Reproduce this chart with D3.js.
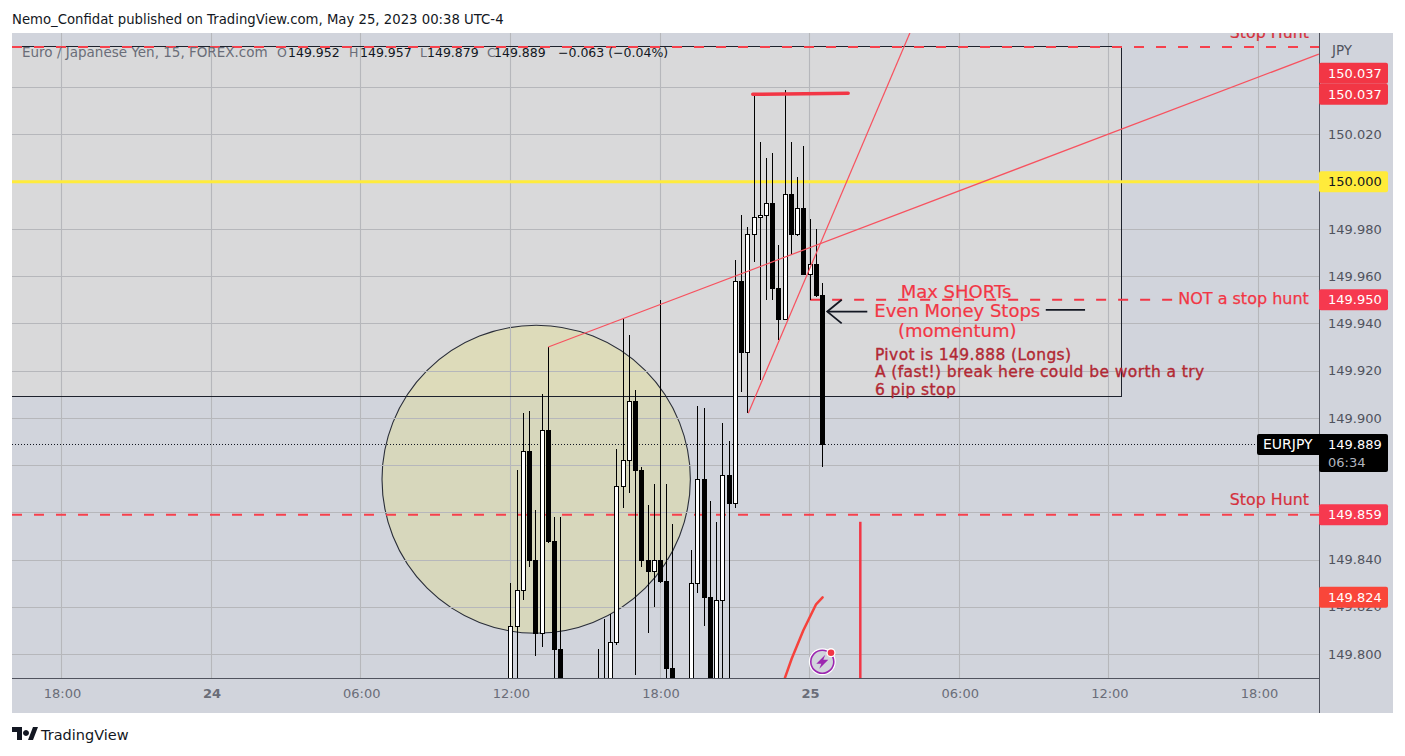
<!DOCTYPE html>
<html><head><meta charset="utf-8">
<script src="https://cdn.jsdelivr.net/npm/d3@7/dist/d3.min.js"></script>
<style>
html,body{margin:0;padding:0;background:#fff;overflow:hidden}
svg{display:block}
text{font-family:"DejaVu Sans",sans-serif}
</style></head><body>
<svg id="c" width="1405" height="756"></svg>
<script>
// ---------- data ----------
const barIndex = [0,1,2,3,4,5,6,7,8,14,15,16,17,18,19,20,21,22,23,24,25,26,29,30,31,32,33,34,35,36,37,38,39,40,41,42,43,44,45,46,47,48,49,50];
const opens  = [149.785,149.812,149.827,149.886,149.840,149.809,149.895,149.848,149.802,149.785,149.785,149.785,149.805,149.871,149.882,149.907,149.878,149.840,149.835,149.840,149.831,149.794,149.785,149.830,149.874,149.824,149.790,149.823,149.876,149.864,149.958,149.928,149.978,149.985,149.986,149.991,149.955,149.942,149.995,149.978,149.989,149.961,149.965,149.952];
const highs  = [149.830,149.878,149.902,149.903,149.861,149.910,149.930,149.858,149.858,149.802,149.815,149.817,149.887,149.942,149.935,149.912,149.879,149.863,149.872,149.950,149.872,149.855,149.844,149.905,149.904,149.865,149.856,149.898,149.890,149.967,149.986,149.981,150.037,150.017,150.010,150.012,149.973,150.039,150.017,150.002,150.015,149.984,149.980,149.957];
const lows   = [149.780,149.785,149.823,149.837,149.799,149.803,149.847,149.785,149.780,149.780,149.780,149.780,149.804,149.862,149.868,149.791,149.837,149.809,149.820,149.830,149.780,149.780,149.780,149.826,149.812,149.785,149.785,149.785,149.785,149.862,149.911,149.902,149.966,149.916,149.950,149.950,149.933,149.942,149.969,149.977,149.961,149.950,149.951,149.879];
const closes = [149.812,149.827,149.886,149.840,149.809,149.895,149.848,149.802,149.785,149.782,149.782,149.805,149.871,149.882,149.907,149.878,149.840,149.835,149.840,149.831,149.794,149.785,149.830,149.874,149.824,149.790,149.823,149.876,149.864,149.958,149.928,149.978,149.985,149.986,149.991,149.955,149.942,149.995,149.978,149.989,149.961,149.965,149.952,149.889];

const priceTicks = [150.04,150.02,150.00,149.98,149.96,149.94,149.92,149.90,149.88,149.86,149.84,149.82,149.80];
const timeTicks = ["2023-05-23T18:00Z","2023-05-24T00:00Z","2023-05-24T06:00Z","2023-05-24T12:00Z","2023-05-24T18:00Z","2023-05-25T00:00Z","2023-05-25T06:00Z","2023-05-25T12:00Z","2023-05-25T18:00Z"];
const timeLabels = ["18:00","24","06:00","12:00","18:00","25","06:00","12:00","18:00"];

const yellowLevel = 150.000, lastPrice = 149.889;
const stopHuntLevels = [150.057,149.859];
const notStopLevel = 149.950, notStopEnd = 106.3;
const boxLeft = -90, boxRight = 98, boxTop = 150.057, boxBottom = 149.909;
const circleCentre = [4.06,149.874], circleRadii = [24.73,0.0652];
const trendA = [[6,149.930],[129.6,150.054]];
const trendB = [[38.08,149.902],[64,150.063]];
const topSwing = [[38.8,150.037],[54.1,150.0375]];
const curveStroke = [[43.97,149.790],[45.04,149.798],[46.9,149.810],[48.94,149.821],[50,149.824]];
const verticalStroke = [[56.05,149.856],[56.05,149.785]];
const arrowShaft = [[57.17,149.945],[50.75,149.945]];
const arrowHeadPts = [[53.06,149.950],[50.75,149.945],[53.06,149.940]];
const arrowTail = [[85.8,149.9457],[92.1,149.9457]];

// ---------- geometry ----------
const W=1405,H=756, L=12,R=1319,T=33,B=678, AR=1393, AB=713;
const x = d3.scaleUtc().domain([new Date("2023-05-23T18:00Z"),new Date("2023-05-25T18:00Z")]).range([62,1259]);
const y = d3.scaleLinear().domain([150,149.859]).range([181.7,514.7]);
const base = new Date("2023-05-24T12:00Z");
const xi = i => x(new Date(+base + i*15*60000));
const line = d3.line().x(d=>xi(d[0])).y(d=>y(d[1]));

const svg = d3.select("#c");
svg.append("rect").attr("width",W).attr("height",H).attr("fill","#fff");
svg.append("rect").attr("x",L).attr("y",T).attr("width",AR-L).attr("height",AB-T).attr("fill","#d1d4dc");
svg.append("defs").append("clipPath").attr("id","pane").append("rect").attr("x",L).attr("y",T).attr("width",R-L).attr("height",B-T);
const pane = svg.append("g").attr("clip-path","url(#pane)");

// box fill and circle under the grid
pane.append("rect").attr("x",xi(boxLeft)).attr("y",y(boxTop)).attr("width",xi(boxRight)-xi(boxLeft)).attr("height",y(boxBottom)-y(boxTop))
  .attr("fill","rgba(221,219,216,.7)");
pane.append("ellipse").attr("cx",xi(circleCentre[0])).attr("cy",y(circleCentre[1]))
  .attr("rx",xi(circleRadii[0])-xi(0)).attr("ry",y(0)-y(circleRadii[1]))
  .attr("fill","rgba(240,230,60,.2)").attr("stroke","#2a2e39").attr("stroke-width",1.1);

// grid
const gridCol="#b6b7bb";
const tDates = timeTicks.map(d=>new Date(d));
pane.append("g").selectAll("line").data(tDates).join("line")
  .attr("x1",d=>Math.round(x(d))-.5).attr("x2",d=>Math.round(x(d))-.5).attr("y1",T).attr("y2",B).attr("stroke",gridCol).attr("stroke-width",1.1);
pane.append("g").selectAll("line").data(priceTicks).join("line")
  .attr("x1",L).attr("x2",R).attr("y1",d=>Math.round(y(d))+.5).attr("y2",d=>Math.round(y(d))+.5).attr("stroke",gridCol).attr("stroke-width",1.1);

// box outline, snapped to the pixel grid so it stays dark
pane.append("rect").attr("x",Math.round(xi(boxLeft))-.5).attr("y",Math.round(y(boxTop))-.5)
  .attr("width",Math.round(xi(boxRight))-Math.round(xi(boxLeft))).attr("height",Math.round(y(boxBottom))-Math.round(y(boxTop)))
  .attr("fill","none").attr("stroke","#1e222d").attr("stroke-width",1);

// horizontal levels
pane.append("line").attr("x1",L).attr("x2",R).attr("y1",y(yellowLevel)).attr("y2",y(yellowLevel)).attr("stroke","#ffeb3b").attr("stroke-width",3);
pane.selectAll(".sh").data(stopHuntLevels).join("line").attr("class","sh")
  .attr("x1",L).attr("x2",R).attr("y1",d=>y(d)).attr("y2",d=>y(d))
  .attr("stroke","#f6404c").attr("stroke-width",2).attr("stroke-dasharray","10 12");
pane.append("line").attr("x1",xi(48)).attr("x2",xi(notStopEnd)).attr("y1",y(notStopLevel)).attr("y2",y(notStopLevel))
  .attr("stroke","#f23645").attr("stroke-width",2).attr("stroke-dasharray","10 12");
pane.append("line").attr("x1",L).attr("x2",1257).attr("y1",Math.round(y(lastPrice))+.5).attr("y2",Math.round(y(lastPrice))+.5)
  .attr("stroke","#131722").attr("stroke-width",1).attr("stroke-dasharray","1 2");

// candles
const candles = barIndex.map((b,i)=>({b,o:opens[i],h:highs[i],l:lows[i],c:closes[i]}));
const cg = pane.append("g").attr("shape-rendering","crispEdges");
cg.selectAll(".w").data(candles).join("rect").attr("class","w")
  .attr("x",d=>Math.floor(xi(d.b))).attr("width",1)
  .attr("y",d=>Math.round(y(d.h))).attr("height",d=>Math.round(y(d.l))-Math.round(y(d.h))).attr("fill","#000");
cg.selectAll(".b").data(candles).join("rect").attr("class","b")
  .attr("x",d=>Math.floor(xi(d.b))-1.5).attr("width",4)
  .attr("y",d=>Math.round(y(Math.max(d.o,d.c)))+.5).attr("height",d=>Math.max(1,Math.round(y(Math.min(d.o,d.c)))-Math.round(y(Math.max(d.o,d.c)))))
  .attr("fill",d=>d.c>=d.o?"#fff":"#000").attr("stroke","#000").attr("stroke-width",1);

// drawn lines
const red="#f7525f";
[trendA,trendB].forEach(t=>pane.append("path").attr("d",line(t)).attr("fill","none").attr("stroke",red).attr("stroke-width",1.2));
pane.append("path").attr("d",line(topSwing)).attr("fill","none").attr("stroke","#f23645").attr("stroke-width",3.5).attr("stroke-linecap","round");
pane.append("path").attr("d",line(curveStroke)).attr("fill","none").attr("stroke","#f6423c").attr("stroke-width",2.5).attr("stroke-linecap","round");
pane.append("path").attr("d",line(verticalStroke)).attr("fill","none").attr("stroke","#f23645").attr("stroke-width",2.5);
[arrowShaft,arrowHeadPts,arrowTail].forEach(t=>pane.append("path").attr("d",line(t)).attr("fill","none").attr("stroke","#131722").attr("stroke-width",1.8));

// annotation text
const note=(t,i,p,size,col,anchor,sw,ls)=>pane.append("text").text(t).attr("x",xi(i)).attr("y",y(p)).attr("dy",".35em")
  .attr("font-size",size).attr("fill",col).attr("text-anchor",anchor||"start")
  .attr("stroke",sw?col:"none").attr("stroke-width",sw||0).attr("letter-spacing",ls||0);
note("Max SHORTs",71.4,149.9536,18,"#f23645","middle",.2);
note("Even Money Stops",71.6,149.9453,18,"#f23645","middle",.2);
note("(momentum)",71.6,149.9368,18,"#f23645","middle",.2);
note("Pivot is 149.888 (Longs)",58.4,149.9269,15.5,"#b22833","start",.35,.4);
note("A (fast!) break here could be worth a try",58.4,149.9195,15.5,"#b22833","start",.35,.4);
note("6 pip stop",58.4,149.912,15.5,"#b22833","start",.35,.4);
note("NOT a stop hunt",128,149.9505,16,"#f23645","end",.25);
note("Stop Hunt",128,149.8655,15.8,"#d5303c","end",.2);
note("Stop Hunt",128,150.063,15.8,"#d5303c","end",.2);

// legend
const lg = pane.append("text").attr("y",57).attr("font-size",13.5).attr("fill","#6a6d78");
lg.append("tspan").attr("x",22).text("Euro / Japanese Yen, 15, FOREX.com");
const ohlc=[["O","149.952",277,288],["H","149.957",349,360],["L","149.879",420,427],["C","149.889",487,494]];
ohlc.forEach(([k,v,a,b])=>{lg.append("tspan").attr("x",a).attr("font-size",12.5).text(k);lg.append("tspan").attr("x",b).attr("font-size",12.5).attr("fill","#131722").text(v);});
lg.append("tspan").attr("x",558).attr("font-size",12.5).attr("fill","#131722").text("−0.063 (−0.04%)");

// event icon
const ic = svg.append("g").attr("transform","translate(822.3,661.7)");
ic.append("circle").attr("r",13.5).attr("fill","#fff");
ic.append("circle").attr("r",11.5).attr("fill","#d1d4dc").attr("stroke","#9c27b0").attr("stroke-width",1.6);
ic.append("path").attr("d","M3,-7 L-6,2 L-1,2 L-3,7 L6,-2 L1,-2 Z").attr("fill","#9c27b0");
ic.append("circle").attr("cx",8.7).attr("cy",-9).attr("r",4.6).attr("fill","#fff");
ic.append("circle").attr("cx",8.7).attr("cy",-9).attr("r",3.3).attr("fill","#f23645");

// axes
svg.append("line").attr("x1",R+.5).attr("x2",R+.5).attr("y1",T).attr("y2",AB).attr("stroke","#50535e");
svg.append("line").attr("x1",L).attr("x2",R).attr("y1",B+.5).attr("y2",B+.5).attr("stroke","#50535e");
const hiddenTicks=[150.04,150.00,149.88,149.86];
const yAxis = d3.axisRight(y).tickValues(priceTicks.filter(d=>!hiddenTicks.includes(d))).tickFormat(d3.format(".3f")).tickSize(0).tickPadding(9);
const ya = svg.append("g").attr("transform",`translate(${R},0)`).call(yAxis);
ya.select(".domain").remove();
ya.selectAll("text").attr("font-size",13).attr("fill","#50535e").attr("font-family","DejaVu Sans");
const xAxis = d3.axisBottom(x).tickValues(tDates).tickFormat((d,i)=>timeLabels[i]).tickSize(0).tickPadding(11);
const xa = svg.append("g").attr("transform",`translate(0,${B})`).call(xAxis);
xa.select(".domain").remove();
xa.selectAll("text").attr("font-size",13).attr("fill","#6a6d78").attr("font-family","DejaVu Sans")
  .attr("font-weight",(d,i)=>timeLabels[i].length<3?600:400);
svg.append("text").text("JPY").attr("x",1332).attr("y",55).attr("font-size",13.5).attr("fill","#50535e");

// price labels
const tags=[[150.037,"150.037","#f23645","#fff",-21],[150.037,"150.037","#f23645","#fff",0],[150.000,"150.000","#ffeb3b","#131722",0],
 [149.950,"149.950","#f6394f","#fff",0],[149.859,"149.859","#f6394f","#fff",0],[149.824,"149.824","#f9463a","#fff",0]];
const tg=svg.append("g");
tg.selectAll("rect").data(tags).join("rect").attr("x",R).attr("width",69).attr("y",d=>y(d[0])+d[4]-10.5).attr("height",21).attr("rx",2).attr("fill",d=>d[2]);
tg.selectAll("text").data(tags).join("text").text(d=>d[1]).attr("x",R+9).attr("y",d=>y(d[0])+d[4]).attr("dy",".36em").attr("font-size",13).attr("fill",d=>d[3]);
const by=Math.round(y(lastPrice));
svg.append("rect").attr("x",1257).attr("y",by-10).attr("width",70).attr("height",21).attr("rx",2).attr("fill","#000");
svg.append("rect").attr("x",R).attr("y",by-10).attr("width",69).attr("height",38).attr("rx",2).attr("fill","#000");
svg.append("text").text("EURJPY").attr("x",1263).attr("y",by).attr("dy",".36em").attr("font-size",14).attr("fill","#fff");
svg.append("text").text("149.889").attr("x",R+9).attr("y",by).attr("dy",".36em").attr("font-size",13).attr("fill","#fff");
svg.append("text").text("06:34").attr("x",R+9).attr("y",by+18).attr("dy",".36em").attr("font-size",13).attr("fill","#b2b5be");

// header & footer
svg.append("text").text("Nemo_Confidat published on TradingView.com, May 25, 2023 00:38 UTC-4").attr("x",12).attr("y",24).attr("font-size",13.25).attr("fill","#131722").attr("font-family","DejaVu Sans Condensed");
const lg2=svg.append("g").attr("transform","translate(12,727)").attr("fill","#131722");
lg2.append("path").attr("d","M0,0H10V13H5V5H0Z M14,3a3,3 0 1,0 .01,0Z M16,13L21,0H26L21,13Z");
svg.append("text").text("TradingView").attr("x",41).attr("y",740).attr("font-size",14.5).attr("fill","#131722").attr("font-family","Noto Sans");
</script>
</body></html>
